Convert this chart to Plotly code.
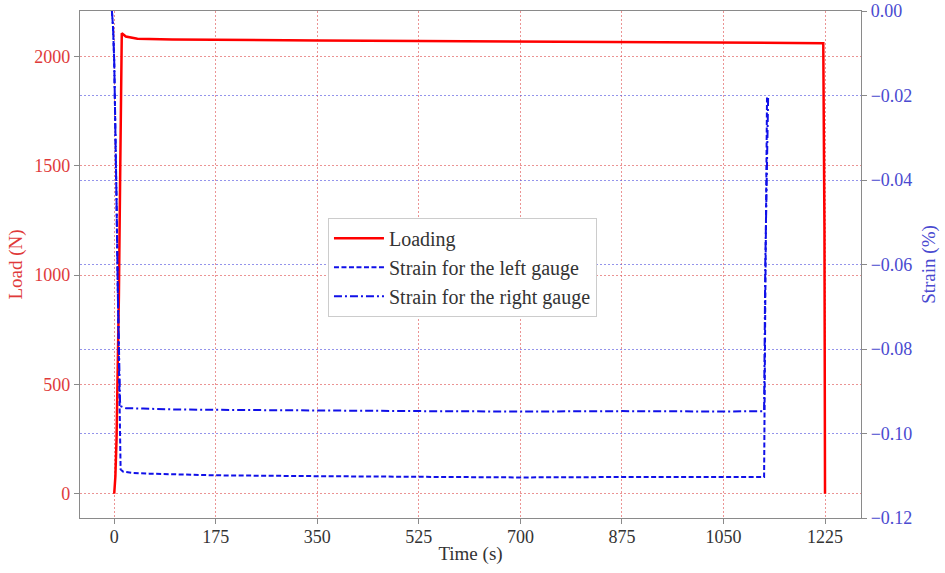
import plotly.graph_objects as go

# ---- data ----
time_load = [0, 2, 4, 6, 8, 10, 12, 13, 20, 40, 100, 175, 350, 525, 700, 875, 1050, 1150, 1222, 1224, 1225]
load = [0, 80, 250, 500, 900, 1400, 1900, 2105, 2090, 2080, 2077, 2075, 2072, 2070, 2067, 2065, 2063, 2061, 2060, 1200, 0]

time_left = [-4, -2, 0, 2, 4, 6, 8, 10, 11, 15, 30, 60, 100, 175, 350, 525, 700, 875, 1050, 1120, 1122, 1125]
strain_left = [0.0, -0.004, -0.012, -0.025, -0.045, -0.065, -0.085, -0.103, -0.1085, -0.1090, -0.1093,
               -0.1095, -0.1097, -0.1099, -0.1101, -0.1102, -0.1104, -0.1103, -0.1104, -0.1103, -0.070, -0.0205]

time_right = [-4, -2, 0, 2, 4, 6, 8, 10, 12, 20, 50, 100, 175, 350, 525, 700, 875, 1050, 1120, 1122, 1127]
strain_right = [0.0, -0.004, -0.012, -0.025, -0.045, -0.065, -0.085, -0.0925, -0.0936, -0.0940, -0.0941,
                -0.0943, -0.0944, -0.0946, -0.0947, -0.0948, -0.0947, -0.0948, -0.0947, -0.060, -0.0200]

x_ticks = [0, 175, 350, 525, 700, 875, 1050, 1225]
load_ticks = [0, 500, 1000, 1500, 2000]
strain_ticks = [-0.12, -0.10, -0.08, -0.06, -0.04, -0.02, 0.00]

FONT = "Liberation Serif"
RED = "#ff0000"
BLUE = "#1010e8"
RED_TXT = "#e03a3a"
BLUE_TXT = "#4a4ad0"
GREY = "#8a8a8a"

fig = go.Figure()
fig.add_trace(go.Scatter(x=time_load, y=load, mode="lines", name="Loading",
                         line=dict(color=RED, width=2.5), yaxis="y"))
fig.add_trace(go.Scatter(x=time_left, y=strain_left, mode="lines", name="Strain for the left gauge",
                         line=dict(color=BLUE, width=2, dash="5px,2.5px"), yaxis="y2"))
fig.add_trace(go.Scatter(x=time_right, y=strain_right, mode="lines", name="Strain for the right gauge",
                         line=dict(color=BLUE, width=2, dash="8px,3px,2px,3px"), yaxis="y2"))

fig.update_layout(
    width=945, height=573,
    margin=dict(l=80, r=84, t=11, b=55),
    paper_bgcolor="white", plot_bgcolor="white",
    font=dict(family=FONT, size=18, color="#333333"),
    showlegend=True,
    legend=dict(x=0.3175, y=0.592, xanchor="left", yanchor="top",
                bgcolor="white", bordercolor="#cccccc", borderwidth=1,
                font=dict(family=FONT, size=20, color="#333333"),
                itemwidth=50, tracegroupgap=0),
    xaxis=dict(range=[-59, 1287], tickvals=x_ticks, ticks="outside", ticklen=5, tickcolor=GREY,
               showline=True, linecolor=GREY, linewidth=1.2, mirror=True, automargin=False,
               showgrid=True, gridcolor="rgba(225,90,90,0.65)", griddash="1.5px,2.5px", gridwidth=1,
               zeroline=False, tickfont=dict(size=18, color="#333333"), ticklabelstandoff=-3,
               title=dict(text="Time (s)", font=dict(size=19, color="#333333"), standoff=0)),
    yaxis=dict(range=[-111, 2207], tickvals=load_ticks, ticks="outside", ticklen=5, tickcolor=GREY,
               showline=True, linecolor=GREY, linewidth=1.2, automargin=False,
               showgrid=True, gridcolor="rgba(225,90,90,0.65)", griddash="1.5px,2.5px", gridwidth=1,
               zeroline=False, tickfont=dict(size=18, color=RED_TXT),
               title=dict(text="Load (N)", font=dict(size=19, color=RED_TXT), standoff=6)),
    yaxis2=dict(range=[-0.12, 0.0], tickvals=strain_ticks, tickformat=".2f", overlaying="y", side="right",
                ticks="outside", ticklen=5, tickcolor=GREY, automargin=False,
                showline=True, linecolor=GREY, linewidth=1.2,
                showgrid=True, gridcolor="rgba(90,90,225,0.65)", griddash="1.5px,2.5px", gridwidth=1,
                zeroline=False, tickfont=dict(size=18, color=BLUE_TXT),
                title=dict(text="Strain (%)", font=dict(size=19, color=BLUE_TXT), standoff=10)),
)

fig.write_html("out.html")
